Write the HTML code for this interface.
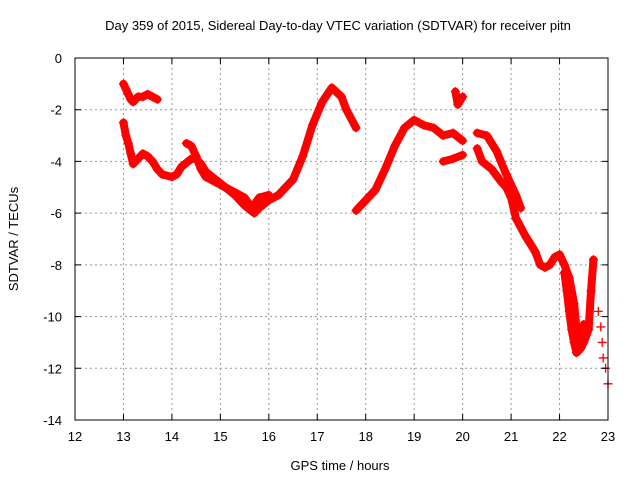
<!DOCTYPE html>
<html><head><meta charset="utf-8"><style>
body{margin:0;background:#fff;}
svg{display:block;font-family:"Liberation Sans",sans-serif;}
</style></head><body>
<svg id="chart" width="640" height="480">
<rect x="0" y="0" width="640" height="480" fill="#fff"/>
<text x="338" y="30" font-size="13" text-anchor="middle">Day 359 of 2015, Sidereal Day-to-day VTEC variation (SDTVAR) for receiver pitn</text>
<text x="340" y="470" font-size="13" text-anchor="middle">GPS time / hours</text>
<text x="18" y="239" font-size="13" text-anchor="middle" transform="rotate(-90 18 239)">SDTVAR / TECUs</text>
<g id="grid"></g>
<g id="series"></g>
<rect x="75" y="58" width="533" height="362" fill="none" stroke="#000" stroke-width="1"/>
<g id="ticks"></g>
</svg>
<script>
const xTicks=[12,13,14,15,16,17,18,19,20,21,22,23];
const yTicks=[0,-2,-4,-6,-8,-10,-12,-14];
const segTop=[[13.0,-1.0],[13.05,-1.2],[13.1,-1.4],[13.15,-1.6],[13.2,-1.7],[13.3,-1.5],[13.4,-1.5],[13.5,-1.4],[13.6,-1.5],[13.7,-1.6]];
const segMain=[[13.0,-2.5],[13.05,-3.0],[13.1,-3.3],[13.15,-3.7],[13.2,-4.1],[13.3,-3.9],[13.4,-3.7],[13.5,-3.8],[13.6,-4.0],[13.7,-4.3],[13.8,-4.5],[14.0,-4.6],[14.1,-4.5],[14.2,-4.2],[14.4,-3.9],[14.5,-3.9],[14.6,-4.1],[14.7,-4.4],[14.9,-4.7],[15.1,-5.0],[15.3,-5.3],[15.5,-5.7],[15.7,-6.0],[15.8,-5.8],[16.0,-5.5],[16.2,-5.3],[16.5,-4.7],[16.7,-3.8],[16.9,-2.6],[17.1,-1.7],[17.3,-1.15],[17.5,-1.5],[17.6,-2.0],[17.8,-2.7]];
const segAlt=[[14.3,-3.3],[14.4,-3.4],[14.5,-3.8],[14.6,-4.3],[14.7,-4.6],[14.9,-4.8],[15.1,-5.0],[15.3,-5.2],[15.5,-5.4],[15.65,-5.8],[15.8,-5.4],[16.0,-5.3]];
const segEve=[[17.8,-5.9],[18.0,-5.5],[18.2,-5.1],[18.4,-4.3],[18.6,-3.4],[18.8,-2.7],[19.0,-2.4],[19.2,-2.6],[19.4,-2.7],[19.6,-3.0],[19.8,-2.9],[20.0,-3.2]];
const segLow20=[[19.6,-4.0],[19.8,-3.9],[20.0,-3.75]];
const segHigh20=[[19.85,-1.3],[19.9,-1.8],[20.0,-1.5]];
const segLate1=[[20.3,-2.9],[20.5,-3.0],[20.7,-3.6],[20.9,-4.5],[21.1,-5.3],[21.2,-5.8]];
const segLate2=[[20.3,-3.5],[20.4,-4.0],[20.6,-4.3],[20.8,-4.8],[20.9,-5.0],[21.0,-5.4],[21.1,-6.2],[21.3,-6.9],[21.5,-7.5],[21.6,-8.0],[21.7,-8.1],[21.8,-8.0],[21.9,-7.7],[22.0,-7.6],[22.1,-8.0],[22.2,-8.5],[22.3,-9.5],[22.35,-10.5],[22.4,-11.3],[22.5,-11.0],[22.6,-10.5],[22.65,-9.0],[22.7,-7.8]];
const segLate3=[[22.1,-8.3],[22.15,-9.0],[22.2,-9.8],[22.25,-10.5],[22.3,-11.0],[22.35,-11.4],[22.45,-11.2],[22.5,-10.3]];
const segScatter=[[22.8,-9.8],[22.85,-10.4],[22.88,-11.0],[22.9,-11.6],[22.95,-12.0],[23.0,-12.6]];
const series=[segTop,segMain,segAlt,segEve,segLow20,segHigh20,segLate1,segLate2,segLate3,segScatter];
const NS="http://www.w3.org/2000/svg";
const X=t=>75+(t-12)*(533/11);
const Y=v=>58-v*(362/14);
const grid=document.getElementById('grid'),ticks=document.getElementById('ticks'),sg=document.getElementById('series');
function mk(tag,attrs,parent){const e=document.createElementNS(NS,tag);for(const k in attrs)e.setAttribute(k,attrs[k]);parent.appendChild(e);return e;}
xTicks.forEach(t=>{const x=X(t);
 if(t>12&&t<23){const g=mk('line',{x1:x,x2:x,y1:58,y2:420,stroke:'#999','stroke-dasharray':'2,3'},grid);
 
 }
 const tk=mk('path',{d:`M${x} 420v-6M${x} 58v6`,stroke:'#000'},ticks);
 
 
 const l=mk('text',{x:x,y:441,'font-size':13,'text-anchor':'middle'},ticks);l.textContent=t;
 
 
});
yTicks.forEach(v=>{const y=Y(v);
 if(v<0&&v>-14){const g=mk('line',{x1:75,x2:608,y1:y,y2:y,stroke:'#999','stroke-dasharray':'2,3'},grid);
 
 }
 const tk=mk('path',{d:`M75 ${y}h6M608 ${y}h-6`,stroke:'#000'},ticks);
 
 
 const l=mk('text',{x:62,y:y+5,'font-size':13,'text-anchor':'end'},ticks);l.textContent=v;
 
 
});
series.forEach((s,i)=>{
 const g=mk('g',{},sg);
 
 
 if(s!==segScatter){const pl=mk('polyline',{points:s.map(p=>X(p[0])+','+Y(p[1])).join(' '),fill:'none',stroke:'#f00','stroke-width':8,'stroke-linejoin':'round','stroke-linecap':'round'},g);
 
 }
 s.forEach(p=>{const x=X(p[0]),y=Y(p[1]);
  const c=mk('path',{d:`M${x-4.5} ${y}h9M${x} ${y-4.5}v9`,stroke:'#f00','stroke-width':1.3},g);
  
  });
});
</script>
</body></html>
